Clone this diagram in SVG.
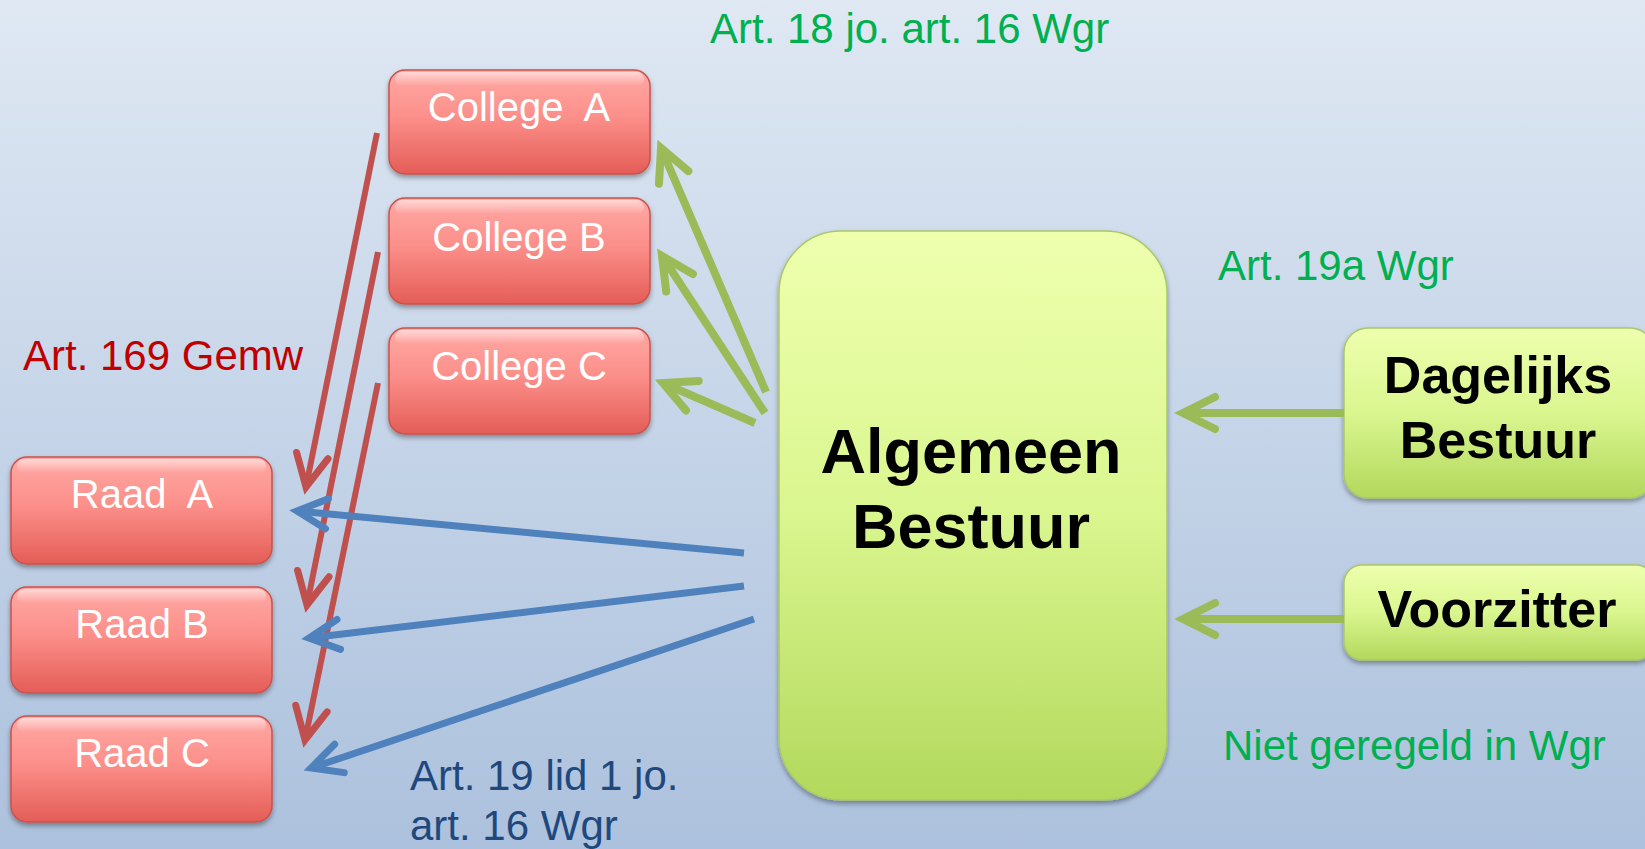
<svg xmlns="http://www.w3.org/2000/svg" width="1645" height="849" viewBox="0 0 1645 849">
<defs>
<linearGradient id="bg" x1="0" y1="0" x2="0" y2="1">
<stop offset="0" stop-color="#DFE8F3"/>
<stop offset="1" stop-color="#ACC1DD"/>
</linearGradient>
<linearGradient id="red" x1="0" y1="0" x2="0" y2="1">
<stop offset="0" stop-color="#FFA9A5"/>
<stop offset="0.45" stop-color="#FC8F8A"/>
<stop offset="1" stop-color="#E45D57"/>
</linearGradient>
<linearGradient id="green" x1="0" y1="0" x2="0" y2="1">
<stop offset="0" stop-color="#EEFFAE"/>
<stop offset="0.5" stop-color="#DAF68F"/>
<stop offset="1" stop-color="#B2D85C"/>
</linearGradient>
<linearGradient id="gloss" x1="0" y1="0" x2="0" y2="1">
<stop offset="0" stop-color="#FFFFFF" stop-opacity="0.55"/>
<stop offset="1" stop-color="#FFFFFF" stop-opacity="0"/>
</linearGradient>
<filter id="sh" x="-10%" y="-10%" width="120%" height="130%">
<feDropShadow dx="0" dy="3" stdDeviation="2.5" flood-color="#000" flood-opacity="0.35"/>
</filter>
<marker id="ar" markerUnits="userSpaceOnUse" viewBox="-45 -30 60 60" markerWidth="60" markerHeight="60" refX="0" refY="0" orient="auto">
<path d="M-32,-16 L0,0 L-32,16" fill="none" stroke="#C0504D" stroke-width="7" stroke-linecap="round"/>
</marker>
<marker id="ab" markerUnits="userSpaceOnUse" viewBox="-45 -30 60 60" markerWidth="60" markerHeight="60" refX="0" refY="0" orient="auto">
<path d="M-30,-15 L0,0 L-30,15" fill="none" stroke="#4F81BD" stroke-width="7" stroke-linecap="round"/>
</marker>
<marker id="ag" markerUnits="userSpaceOnUse" viewBox="-45 -30 60 60" markerWidth="60" markerHeight="60" refX="0" refY="0" orient="auto">
<path d="M-32,-16 L0,0 L-32,16" fill="none" stroke="#9BBB59" stroke-width="8" stroke-linecap="round"/>
</marker>
</defs>
<style>
.rbox{fill:url(#red);stroke:#C9524C;stroke-width:1.5;filter:url(#sh)}
.gbox{fill:url(#green);stroke:#A9C86A;stroke-width:1.5;filter:url(#sh)}
.gl{fill:url(#gloss)}
.wt{font-family:"Liberation Sans",Arial,sans-serif;font-size:40px;fill:#FFFFFF;text-anchor:middle;white-space:pre}
.bt{font-family:"Liberation Sans",Arial,sans-serif;font-weight:bold;fill:#000000;text-anchor:middle}
.lbl{font-family:"Liberation Sans",Arial,sans-serif;font-size:42px}
.red{stroke:#C0504D;stroke-width:6;fill:none;marker-end:url(#ar)}
.blue{stroke:#4F81BD;stroke-width:7;fill:none;marker-end:url(#ab)}
.grn{stroke:#9BBB59;stroke-width:8;fill:none;marker-end:url(#ag)}
</style>
<rect x="0" y="0" width="1645" height="849" fill="url(#bg)"/>

<g id="college-a">
<rect class="rbox" x="389" y="70" width="261" height="104" rx="16"/>
<rect class="gl" x="395" y="72" width="249" height="14" rx="7"/>
<text class="wt" x="519" y="121" xml:space="preserve">College  A</text>
</g>
<g id="college-b">
<rect class="rbox" x="389" y="198" width="261" height="106" rx="16"/>
<rect class="gl" x="395" y="200" width="249" height="14" rx="7"/>
<text class="wt" x="519" y="251">College B</text>
</g>
<g id="college-c">
<rect class="rbox" x="389" y="328" width="261" height="106" rx="16"/>
<rect class="gl" x="395" y="330" width="249" height="14" rx="7"/>
<text class="wt" x="519" y="380">College C</text>
</g>
<g id="raad-a">
<rect class="rbox" x="11" y="457" width="261" height="107" rx="16"/>
<rect class="gl" x="17" y="459" width="249" height="14" rx="7"/>
<text class="wt" x="142" y="508" xml:space="preserve">Raad  A</text>
</g>
<g id="raad-b">
<rect class="rbox" x="11" y="587" width="261" height="106" rx="16"/>
<rect class="gl" x="17" y="589" width="249" height="14" rx="7"/>
<text class="wt" x="142" y="638">Raad B</text>
</g>
<g id="raad-c">
<rect class="rbox" x="11" y="716" width="261" height="106" rx="16"/>
<rect class="gl" x="17" y="718" width="249" height="14" rx="7"/>
<text class="wt" x="142" y="767">Raad C</text>
</g>
<g id="algemeen-bestuur">
<rect class="gbox" x="779" y="231" width="388" height="569" rx="62"/>
<text class="bt" x="971" y="473" font-size="63">Algemeen</text>
<text class="bt" x="971" y="548" font-size="63">Bestuur</text>
</g>
<g id="dagelijks-bestuur">
<rect class="gbox" x="1344" y="328" width="310" height="170" rx="24"/>
<text class="bt" x="1498" y="393" font-size="52">Dagelijks</text>
<text class="bt" x="1498" y="458" font-size="52">Bestuur</text>
</g>
<g id="voorzitter">
<rect class="gbox" x="1344" y="565" width="310" height="95" rx="18"/>
<text class="bt" x="1497" y="627" font-size="52">Voorzitter</text>
</g>

<g id="connectors">
<line class="red" x1="377" y1="133" x2="306" y2="487"/>
<line class="red" x1="378" y1="252" x2="307" y2="605"/>
<line class="red" x1="378" y1="383" x2="305" y2="740"/>
<line class="blue" x1="744" y1="553" x2="297" y2="511"/>
<line class="blue" x1="744" y1="586" x2="309" y2="638"/>
<line class="blue" x1="754" y1="619" x2="311" y2="768"/>
<line class="grn" x1="766" y1="392" x2="661" y2="148"/>
<line class="grn" x1="765" y1="413" x2="662" y2="256"/>
<line class="grn" x1="755" y1="423" x2="663" y2="383"/>
<line class="grn" x1="1344" y1="413" x2="1183" y2="413"/>
<line class="grn" x1="1344" y1="619" x2="1183" y2="619"/>
</g>

<g id="labels">
<text class="lbl" x="710" y="43" fill="#00B050">Art. 18 jo. art. 16 Wgr</text>
<text class="lbl" x="1218" y="280" fill="#00B050">Art. 19a Wgr</text>
<text class="lbl" x="1223" y="760" fill="#00B050">Niet geregeld in Wgr</text>
<text class="lbl" x="23" y="370" fill="#C00000">Art. 169 Gemw</text>
<text class="lbl" x="410" y="790" fill="#1F497D">Art. 19 lid 1 jo.</text>
<text class="lbl" x="410" y="840" fill="#1F497D">art. 16 Wgr</text>
</g>
</svg>
